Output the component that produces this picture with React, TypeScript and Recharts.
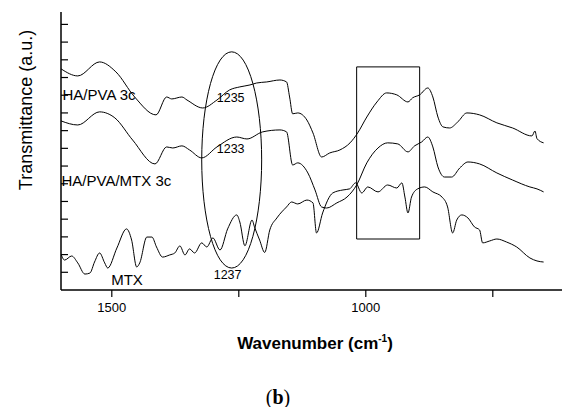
import React from 'react';
import { LineChart, Line, XAxis, YAxis, ReferenceArea, ReferenceDot, Customized } from 'recharts';

// [wavenumber (cm-1), transmittance (a.u., offset)]
const haPva3c: [number, number][] = [
  [1600, 12.49], [1567, 12.09], [1524, 12.88], [1492, 12.32], [1455, 10.9], [1413, 9.89],
  [1392, 10.9], [1382, 10.79], [1362, 10.9], [1352, 10.73], [1321, 10.28], [1293, 10.73],
  [1268, 11.3], [1248, 11.47], [1228, 11.58], [1215, 11.69], [1195, 11.75], [1169, 11.86],
  [1156, 11.75], [1150, 10.9], [1144, 9.95], [1134, 10.0], [1116, 9.6], [1104, 8.87],
  [1087, 7.51], [1071, 7.74], [1051, 7.91], [1031, 8.31], [1016, 8.87], [998, 9.77],
  [978, 10.62], [959, 11.13], [939, 11.02], [917, 10.62], [908, 10.85], [894, 11.02],
  [878, 11.41], [868, 10.9], [858, 9.77], [848, 9.21], [835, 9.15], [819, 9.49],
  [801, 10.0], [776, 9.89], [742, 9.44], [711, 9.15], [673, 8.7], [667, 8.98],
  [663, 8.55], [650, 8.31],
];

const haPvaMtx3c: [number, number][] = [
  [1600, 9.55], [1567, 9.32], [1524, 10.06], [1494, 9.72], [1459, 8.47], [1415, 7.12],
  [1392, 8.08], [1380, 8.02], [1362, 8.14], [1347, 7.91], [1323, 7.46], [1293, 8.08],
  [1254, 8.64], [1234, 8.53], [1203, 8.93], [1169, 9.04], [1156, 8.93], [1144, 7.06],
  [1134, 7.18], [1114, 6.61], [1100, 5.65], [1087, 4.69], [1077, 4.63], [1057, 4.92],
  [1037, 5.25], [1018, 5.93], [998, 7.18], [976, 8.02], [957, 8.31], [937, 8.25],
  [917, 7.8], [904, 8.14], [890, 8.36], [878, 8.64], [868, 8.08], [858, 6.95],
  [845, 6.38], [831, 6.38], [815, 6.89], [799, 7.23], [776, 7.12], [742, 6.61],
  [711, 6.21], [677, 5.82], [663, 5.71], [650, 5.54],
];

const mtx: [number, number][] = [
  [1600, 2.03], [1593, 1.69], [1579, 1.92], [1567, 1.53], [1553, 0.9], [1543, 0.96],
  [1534, 1.58], [1524, 2.09], [1514, 1.53], [1508, 1.24], [1490, 2.37], [1471, 3.45],
  [1461, 2.82], [1451, 1.3], [1445, 1.53], [1431, 2.99], [1421, 2.99], [1412, 2.43],
  [1400, 1.86], [1386, 1.98], [1376, 2.09], [1366, 2.49], [1356, 1.98], [1347, 2.32],
  [1337, 2.09], [1323, 2.66], [1313, 2.43], [1301, 2.94], [1287, 2.26], [1272, 3.45],
  [1254, 4.24], [1248, 3.84], [1238, 2.5], [1224, 3.95], [1219, 3.55], [1209, 2.82],
  [1199, 2.12], [1189, 3.39], [1175, 4.07], [1156, 4.69], [1146, 4.97], [1134, 4.86],
  [1116, 5.08], [1104, 4.92], [1097, 3.22], [1085, 4.35], [1065, 5.48], [1045, 5.65],
  [1032, 5.71], [1020, 6.05], [1008, 5.48], [996, 5.82], [976, 5.54], [957, 5.93],
  [939, 5.76], [929, 6.05], [923, 5.25], [917, 4.35], [910, 5.25], [898, 5.71],
  [884, 5.82], [868, 5.54], [850, 5.25], [839, 4.69], [829, 3.22], [821, 3.95],
  [811, 4.24], [799, 4.07], [786, 3.56], [776, 3.39], [770, 2.66], [756, 2.77],
  [742, 2.88], [723, 2.71], [703, 2.43], [677, 1.81], [663, 1.64], [650, 1.58],
];

const xTicks = [1500, 1250, 1000, 750];
const xLabelled = [1500, 1000];
const yTicks = [1, 2, 3, 4, 5, 6, 7, 8, 9, 10, 11, 12, 13, 14, 15];

// annotations: text, wavenumber, transmittance, anchor
const curveLabels: { text: string; w: number; t: number; pos: 'right' | 'center'; size: number }[] = [
  { text: 'HA/PVA 3c', w: 1597, t: 11.02, pos: 'right', size: 15 },
  { text: 'HA/PVA/MTX 3c', w: 1599, t: 6.16, pos: 'right', size: 15 },
  { text: 'MTX', w: 1470, t: 0.56, pos: 'center', size: 15 },
  { text: '1235', w: 1266, t: 10.88, pos: 'center', size: 12.5 },
  { text: '1233', w: 1266, t: 7.97, pos: 'center', size: 12.5 },
  { text: '1237', w: 1272, t: 0.85, pos: 'center', size: 12.5 },
];

// highlighted regions: [w1, w2, t1, t2]
const ellipseRegion = [1323, 1205, 1.24, 13.45];
const boxRegion = [1018, 894, 2.88, 12.6];

const toRows = (arr: [number, number][]) => arr.map(([w, t]) => ({ w, t }));

const FONT = '"Liberation Sans", Arial, sans-serif';

const EllipseShape = (props: any) => {
  const { x, y, width, height } = props;
  const w = Math.abs(width);
  const h = Math.abs(height);
  return (
    <ellipse
      cx={x + w / 2}
      cy={y + h / 2}
      rx={w / 2}
      ry={h / 2}
      fill="none"
      stroke="#000"
      strokeWidth={1}
    />
  );
};

const Titles = () => (
  <g>
    <text x={315} y={349} textAnchor="middle" fontFamily={FONT} fontWeight="bold" fontSize={17} fill="#000">
      <tspan>Wavenumber (cm</tspan>
      <tspan dy={-7} fontSize={10}>-1</tspan>
      <tspan dy={7}>)</tspan>
    </text>
    <text
      x={32}
      y={110}
      transform="rotate(-90 32 110)"
      textAnchor="middle"
      fontFamily={FONT}
      fontSize={18}
      fill="#000"
    >
      Transmittance (a.u.)
    </text>
    <text x={278} y={404} textAnchor="middle" fontFamily='"Liberation Serif", "DejaVu Serif", serif' fontSize={20} fill="#000">
      (<tspan fontWeight="bold">b</tspan>)
    </text>
  </g>
);

export default function App() {
  return (
    <div style={{ position: 'absolute', left: 0, top: 0, width: 562, height: 407, overflow: 'hidden', background: '#fff' }}>
      <LineChart width={570} height={407} margin={{ top: 12, right: 1, left: 0, bottom: 0 }}>
        <XAxis
          type="number"
          dataKey="w"
          domain={[600, 1600]}
          reversed
          allowDataOverflow
          ticks={xTicks}
          tickFormatter={(v: number) => (xLabelled.includes(v) ? String(v) : '')}
          tickSize={7}
          tickMargin={6}
          height={117}
          axisLine={{ stroke: '#000', strokeWidth: 1.5 }}
          tickLine={{ stroke: '#000', strokeWidth: 1.2 }}
          tick={{ fill: '#000', fontSize: 13, fontFamily: FONT }}
        />
        <YAxis
          type="number"
          domain={[0, 15.7]}
          allowDataOverflow
          ticks={yTicks}
          tickFormatter={() => ''}
          tickSize={-7}
          width={61}
          axisLine={{ stroke: '#000', strokeWidth: 1.5 }}
          tickLine={{ stroke: '#000', strokeWidth: 1.2 }}
        />
        <Line data={toRows(haPva3c)} dataKey="t" type="monotone" stroke="#000" strokeWidth={1} dot={false} isAnimationActive={false} />
        <Line data={toRows(haPvaMtx3c)} dataKey="t" type="monotone" stroke="#000" strokeWidth={1} dot={false} isAnimationActive={false} />
        <Line data={toRows(mtx)} dataKey="t" type="monotone" stroke="#000" strokeWidth={1} dot={false} isAnimationActive={false} />
        <ReferenceArea
          x1={boxRegion[0]}
          x2={boxRegion[1]}
          y1={boxRegion[2]}
          y2={boxRegion[3]}
          fill="none"
          fillOpacity={0}
          stroke="#000"
          strokeWidth={1}
          ifOverflow="visible"
        />
        <ReferenceArea
          x1={ellipseRegion[0]}
          x2={ellipseRegion[1]}
          y1={ellipseRegion[2]}
          y2={ellipseRegion[3]}
          shape={EllipseShape}
          ifOverflow="visible"
        />
        {curveLabels.map((l) => (
          <ReferenceDot
            key={l.text}
            x={l.w}
            y={l.t}
            r={0}
            fill="none"
            stroke="none"
            ifOverflow="visible"
            label={{ value: l.text, position: l.pos, offset: 0, fontSize: l.size, fontFamily: FONT, fill: '#000' }}
          />
        ))}
        <Customized component={Titles} />
      </LineChart>
    </div>
  );
}
